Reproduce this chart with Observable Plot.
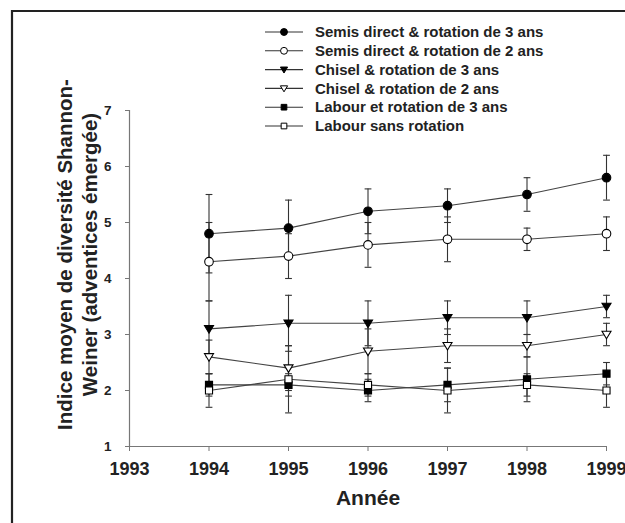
<!DOCTYPE html>
<html>
<head>
<meta charset="utf-8">
<script src="https://cdn.jsdelivr.net/npm/d3@7"></script>
<script src="https://cdn.jsdelivr.net/npm/@observablehq/plot@0.6"></script>
<style>
  html, body { margin: 0; padding: 0; background: white; overflow: hidden; }
  #wrap { position: relative; width: 625px; height: 523px; overflow: hidden; font-family: "Liberation Sans", Arial, sans-serif; }
  #chart svg { display: block; }
  #legend { position: absolute; left: 0; top: 0; pointer-events: none; }
</style>
</head>
<body>
<div id="wrap"><div id="chart"></div><svg id="legend" width="625" height="523"></svg></div>
<script>
// ---- data ----
const years = [1994, 1995, 1996, 1997, 1998, 1999];
const xTicks = [1993, 1994, 1995, 1996, 1997, 1998, 1999];
const yTicks = [1, 2, 3, 4, 5, 6, 7];
const seriesNames = [
  "Semis direct & rotation de 3 ans",
  "Semis direct & rotation de 2 ans",
  "Chisel & rotation de 3 ans",
  "Chisel & rotation de 2 ans",
  "Labour et rotation de 3 ans",
  "Labour sans rotation"
];
const sd3 = [4.8, 4.9, 5.2, 5.3, 5.5, 5.8];
const sd3Err = [0.7, 0.5, 0.4, 0.3, 0.3, 0.4];
const sd2 = [4.3, 4.4, 4.6, 4.7, 4.7, 4.8];
const sd2Err = [0.7, 0.4, 0.4, 0.4, 0.2, 0.3];
const ch3 = [3.1, 3.2, 3.2, 3.3, 3.3, 3.5];
const ch3Err = [0.5, 0.5, 0.4, 0.3, 0.3, 0.2];
const ch2 = [2.6, 2.4, 2.7, 2.8, 2.8, 3.0];
const ch2Err = [0.3, 0.4, 0.4, 0.3, 0.2, 0.2];
const lb3 = [2.1, 2.1, 2.0, 2.1, 2.2, 2.3];
const lb3Err = [0.2, 0.2, 0.2, 0.3, 0.4, 0.2];
const lbs = [2.0, 2.2, 2.1, 2.0, 2.1, 2.0];
const lbsErr = [0.3, 0.6, 0.2, 0.4, 0.2, 0.3];

const seriesValues = [sd3, sd2, ch3, ch2, lb3, lbs];
const seriesErrors = [sd3Err, sd2Err, ch3Err, ch2Err, lb3Err, lbsErr];

// ---- symbols ----
const triDown = {
  draw(ctx, size) {
    const r = Math.sqrt(size / Math.PI);
    const w = r * 1.05;
    ctx.moveTo(-w, -r * 0.75);
    ctx.lineTo(w, -r * 0.75);
    ctx.lineTo(0, r * 1.0);
    ctx.closePath();
  }
};
const capSym = {
  draw(ctx, size) {
    const r = Math.sqrt(size / Math.PI);
    ctx.moveTo(-r, 0);
    ctx.lineTo(r, 0);
  }
};
const styles = [
  {symbol: "circle", fill: "black", r: 4.3},
  {symbol: "circle", fill: "white", r: 4.3},
  {symbol: triDown, fill: "black", r: 4.3},
  {symbol: triDown, fill: "white", r: 4.3},
  {symbol: "square", fill: "black", r: 4.0},
  {symbol: "square", fill: "white", r: 4.0}
];

const rows = [];
seriesNames.forEach((name, i) => {
  years.forEach((yr, j) => {
    rows.push({series: name, idx: i, year: yr, value: seriesValues[i][j], err: seriesErrors[i][j]});
  });
});

const marks = [
  Plot.ruleY([1], {stroke: "#777", strokeWidth: 1.2}),
  Plot.ruleX([1993], {y1: 1, y2: 7, stroke: "#777", strokeWidth: 1.2}),
  Plot.axisX({ticks: xTicks, tickFormat: d => String(d), tickSize: 5, tickPadding: 11,
    fontSize: 18, fontWeight: "bold", stroke: "#777", fill: "#222", label: null}),
  Plot.axisY({ticks: yTicks, tickFormat: d => String(d), tickSize: 4, tickPadding: 14,
    fontSize: 13.5, fontWeight: "bold", stroke: "#777", fill: "#222", label: null}),
  Plot.text(["Année"], {frameAnchor: "bottom", lineAnchor: "middle", dy: 52, fontSize: 21, fontWeight: "bold", fill: "#222"}),
  Plot.text(["Indice moyen de diversité Shannon-"], {frameAnchor: "left", textAnchor: "middle", lineAnchor: "middle", rotate: -90, dx: -64, dy: -24, fontSize: 20.5, fontWeight: "bold", fill: "#222"}),
  Plot.text(["Weiner (adventices émergée)"], {frameAnchor: "left", textAnchor: "middle", lineAnchor: "middle", rotate: -90, dx: -39, dy: -24, fontSize: 20.5, fontWeight: "bold", fill: "#222"})
];

seriesNames.forEach((name, i) => {
  const d = rows.filter(r => r.idx === i);
  marks.push(Plot.line(d, {x: "year", y: "value", stroke: "#444", strokeWidth: 1.1}));
});
seriesNames.forEach((name, i) => {
  const d = rows.filter(r => r.idx === i);
  marks.push(Plot.ruleX(d, {x: "year", y1: r => r.value - r.err, y2: r => r.value + r.err, stroke: "#333", strokeWidth: 1.1}));
  marks.push(Plot.dot(d, {x: "year", y: r => r.value + r.err, symbol: capSym, r: 3.4, stroke: "#333", fill: "none", strokeWidth: 1.1}));
  marks.push(Plot.dot(d, {x: "year", y: r => r.value - r.err, symbol: capSym, r: 3.4, stroke: "#333", fill: "none", strokeWidth: 1.1}));
});
seriesNames.forEach((name, i) => {
  const d = rows.filter(r => r.idx === i);
  const s = styles[i];
  marks.push(Plot.dot(d, {x: "year", y: "value", symbol: s.symbol, r: s.r, fill: s.fill, stroke: "black", strokeWidth: 1.1}));
});

const chart = Plot.plot({
  width: 625,
  height: 523,
  marginLeft: 129,
  marginRight: 19,
  marginTop: 110,
  marginBottom: 77,
  x: {domain: [1993, 1999]},
  y: {domain: [1, 7]},
  style: {fontFamily: "'Liberation Sans', Arial, sans-serif", background: "white", overflow: "visible"},
  marks
});
document.getElementById("chart").appendChild(chart);

// ---- legend and frame ----
const leg = d3.select("#legend");
leg.append("path").attr("d", "M12,530V11H630").attr("fill", "none").attr("stroke", "#222").attr("stroke-width", 2.2);
const legY0 = 32, legStep = 18.8;
const symGen = (sym, r) => d3.symbol(typeof sym === "string" ? (sym === "circle" ? d3.symbolCircle : d3.symbolSquare) : sym, Math.PI * r * r);
seriesNames.forEach((name, i) => {
  const y = legY0 + i * legStep;
  const g = leg.append("g").attr("transform", `translate(0,${y})`);
  g.append("line").attr("x1", 265).attr("x2", 303).attr("y1", 0).attr("y2", 0).attr("stroke", "#333").attr("stroke-width", 1.1);
  const s = styles[i];
  g.append("path").attr("d", symGen(s.symbol, s.r * 0.8)()).attr("transform", "translate(284,0)")
    .attr("fill", s.fill).attr("stroke", "black").attr("stroke-width", 1);
  g.append("text").attr("x", 315).attr("y", 0).attr("dy", "0.35em")
    .attr("font-family", "'Liberation Sans', Arial, sans-serif").attr("font-weight", "bold").attr("font-size", 15)
    .attr("fill", "#222").text(name);
});
</script>
</body>
</html>
